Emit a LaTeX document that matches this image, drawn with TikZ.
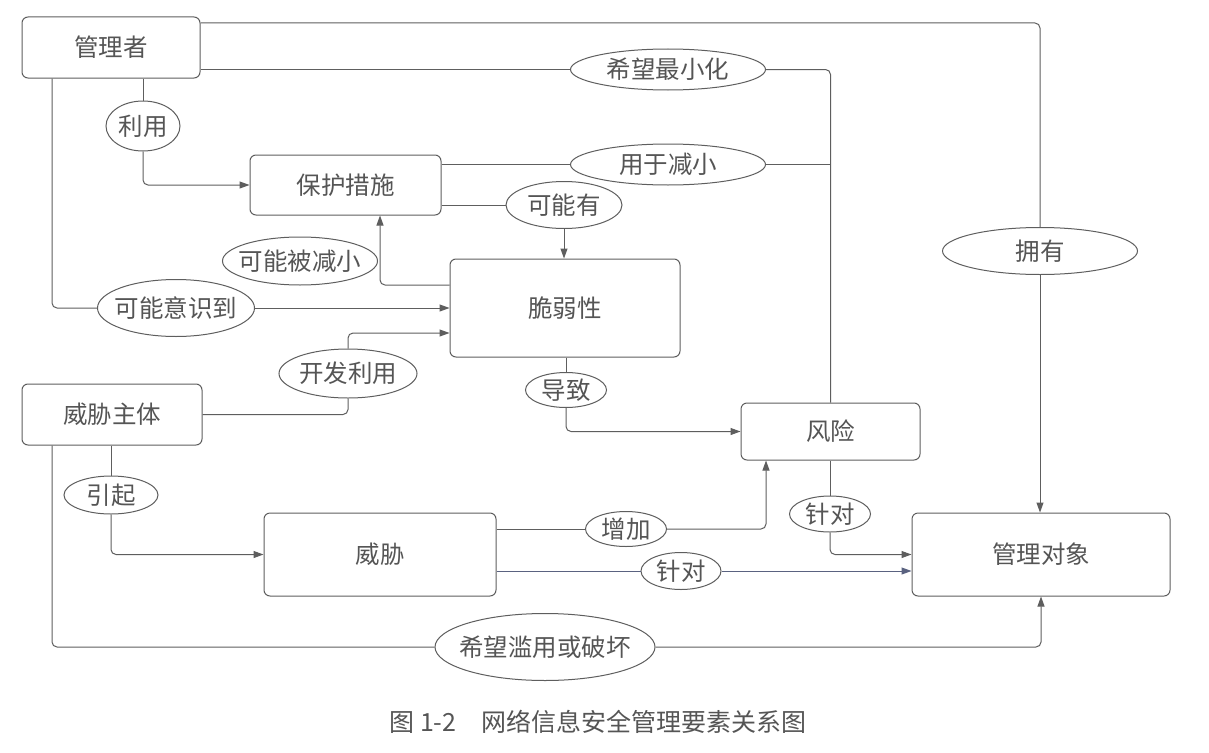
\documentclass[tikz,border=0pt]{standalone}
\usepackage{fontspec}
\setmainfont{Noto Sans CJK SC}
\usetikzlibrary{shapes.geometric,arrows.meta,calc}
\definecolor{ln}{HTML}{5E5E5E}
\definecolor{tx}{HTML}{555555}
\definecolor{bl}{HTML}{5A6280}
\newcommand\lbtxt[1]{\makebox[0pt]{#1}}
\begin{document}
\begin{tikzpicture}[x=1pt,y=-1pt,
  box/.style={draw=ln,line width=1pt,rounded corners=6pt,fill=white,text=tx,
    font=\fontsize{24.5}{26}\selectfont,inner sep=0pt},
  lbl/.style={ellipse,draw=ln,line width=1pt,fill=white,text=tx,
    font=\fontsize{24.5}{26}\selectfont,inner sep=0pt},
  conn/.style={draw=ln,line width=1pt,rounded corners=5pt},
  arr/.style={conn,-{Triangle[length=10pt,width=7pt]}}]
\useasboundingbox (0,0) rectangle (1209,752);
\fill[white] (0,0) rectangle (1209,752);
% helper levels
\coordinate (y23) at (0,23);
\coordinate (y285) at (0,285);
\coordinate (y333) at (0,333);
\coordinate (x52) at (52,0);
\coordinate (x380) at (380,0);
\coordinate (x766) at (766,0);
% boxes
\node[box,minimum width=178,minimum height=61] (mgr) at (111,47.5) {管理者};
\node[box,minimum width=191,minimum height=60] (prot) at (345.5,185) {保护措施};
\node[box,minimum width=230,minimum height=98] (vul) at (565,308) {脆弱性};
\node[box,minimum width=180,minimum height=61] (ta) at (112,414.5) {威胁主体};
\node[box,minimum width=232,minimum height=83] (thr) at (380,554.5) {威胁};
\node[box,minimum width=179,minimum height=57] (risk) at (830.5,431.5) {风险};
\node[box,minimum width=258,minimum height=83] (obj) at (1041,554.5) {管理对象};
% labels
\node[lbl,minimum width=74,minimum height=50] (euse) at (143,126) {\lbtxt{利用}};
\node[lbl,minimum width=195,minimum height=41] (emin) at (668,69.5) {\lbtxt{希望最小化}};
\node[lbl,minimum width=195,minimum height=41] (ered) at (668,164.5) {\lbtxt{用于减小}};
\node[lbl,minimum width=116,minimum height=47] (emay) at (564,205) {\lbtxt{可能有}};
\node[lbl,minimum width=155,minimum height=48] (ecan) at (300,261) {\lbtxt{可能被减小}};
\node[lbl,minimum width=157,minimum height=57] (eaware) at (176,308) {\lbtxt{可能意识到}};
\node[lbl,minimum width=195,minimum height=47] (eown) at (1040,251) {\lbtxt{拥有}};
\node[lbl,minimum width=138,minimum height=49] (edev) at (348,373.5) {\lbtxt{开发利用}};
\node[lbl,minimum width=94,minimum height=38] (ecause) at (111,495) {\lbtxt{引起}};
\node[lbl,minimum width=81,minimum height=35] (elead) at (566,390) {\lbtxt{导致}};
\node[lbl,minimum width=81,minimum height=35] (einc) at (626,529) {\lbtxt{增加}};
\node[lbl,minimum width=80,minimum height=37] (etgta) at (681,571) {\lbtxt{针对}};
\node[lbl,minimum width=81,minimum height=36] (etgtb) at (830,514) {\lbtxt{针对}};
\node[lbl,minimum width=220,minimum height=67] (eabuse) at (545,647) {\lbtxt{希望滥用或破坏}};
% caption
\node[text=tx,font=\fontsize{25}{28}\selectfont] (cap) at (598,722) {图 1-2\quad 网络信息安全管理要素关系图};
% connectors
\draw[conn] (mgr.east |- y23) -| (eown.north);
\draw[arr] (eown.south) -- (obj.north -| eown.south);
\draw[conn] (mgr.east |- emin) -- (emin.west);
\draw[conn] (emin.east) -| (risk.north);
\draw[conn] (prot.east |- ered) -- (ered.west);
\draw[conn] (ered.east) -- (ered.east -| risk.north);
\draw[conn] (mgr.south -| euse) -- (euse.north);
\draw[arr] (euse.south) |- (prot.west);
\draw[conn] (mgr.south -| x52) |- (eaware.west);
\draw[arr] (eaware.east) -- (vul.west |- eaware);
\draw[conn] (prot.east |- emay) -- (emay.west);
\draw[arr] (emay.south) -- (vul.north -| emay);
\draw[arr] (vul.west |- y285) -| (prot.south -| x380);
\draw[conn] (ta.east) -| (edev.south);
\draw[arr] (edev.north) |- (vul.west |- y333);
\draw[conn] (ta.south -| ecause) -- (ecause.north);
\draw[arr] (ecause.south) |- (thr.west);
\draw[conn] (ta.south -| x52) |- (eabuse.west);
\draw[arr] (eabuse.east) -| (obj.south);
\draw[conn] (vul.south -| elead) -- (elead.north);
\draw[arr] (elead.south) |- (risk.west);
\draw[conn] (thr.east |- einc) -- (einc.west);
\draw[arr] (einc.east) -| (risk.south -| x766);
\draw[conn,draw=bl] (thr.east |- etgta) -- (etgta.west);
\draw[arr,draw=bl] (etgta.east) -- (obj.west |- etgta);
\draw[conn] (risk.south -| etgtb) -- (etgtb.north);
\draw[arr] (etgtb.south) |- (obj.west);
\end{tikzpicture}
\end{document}
